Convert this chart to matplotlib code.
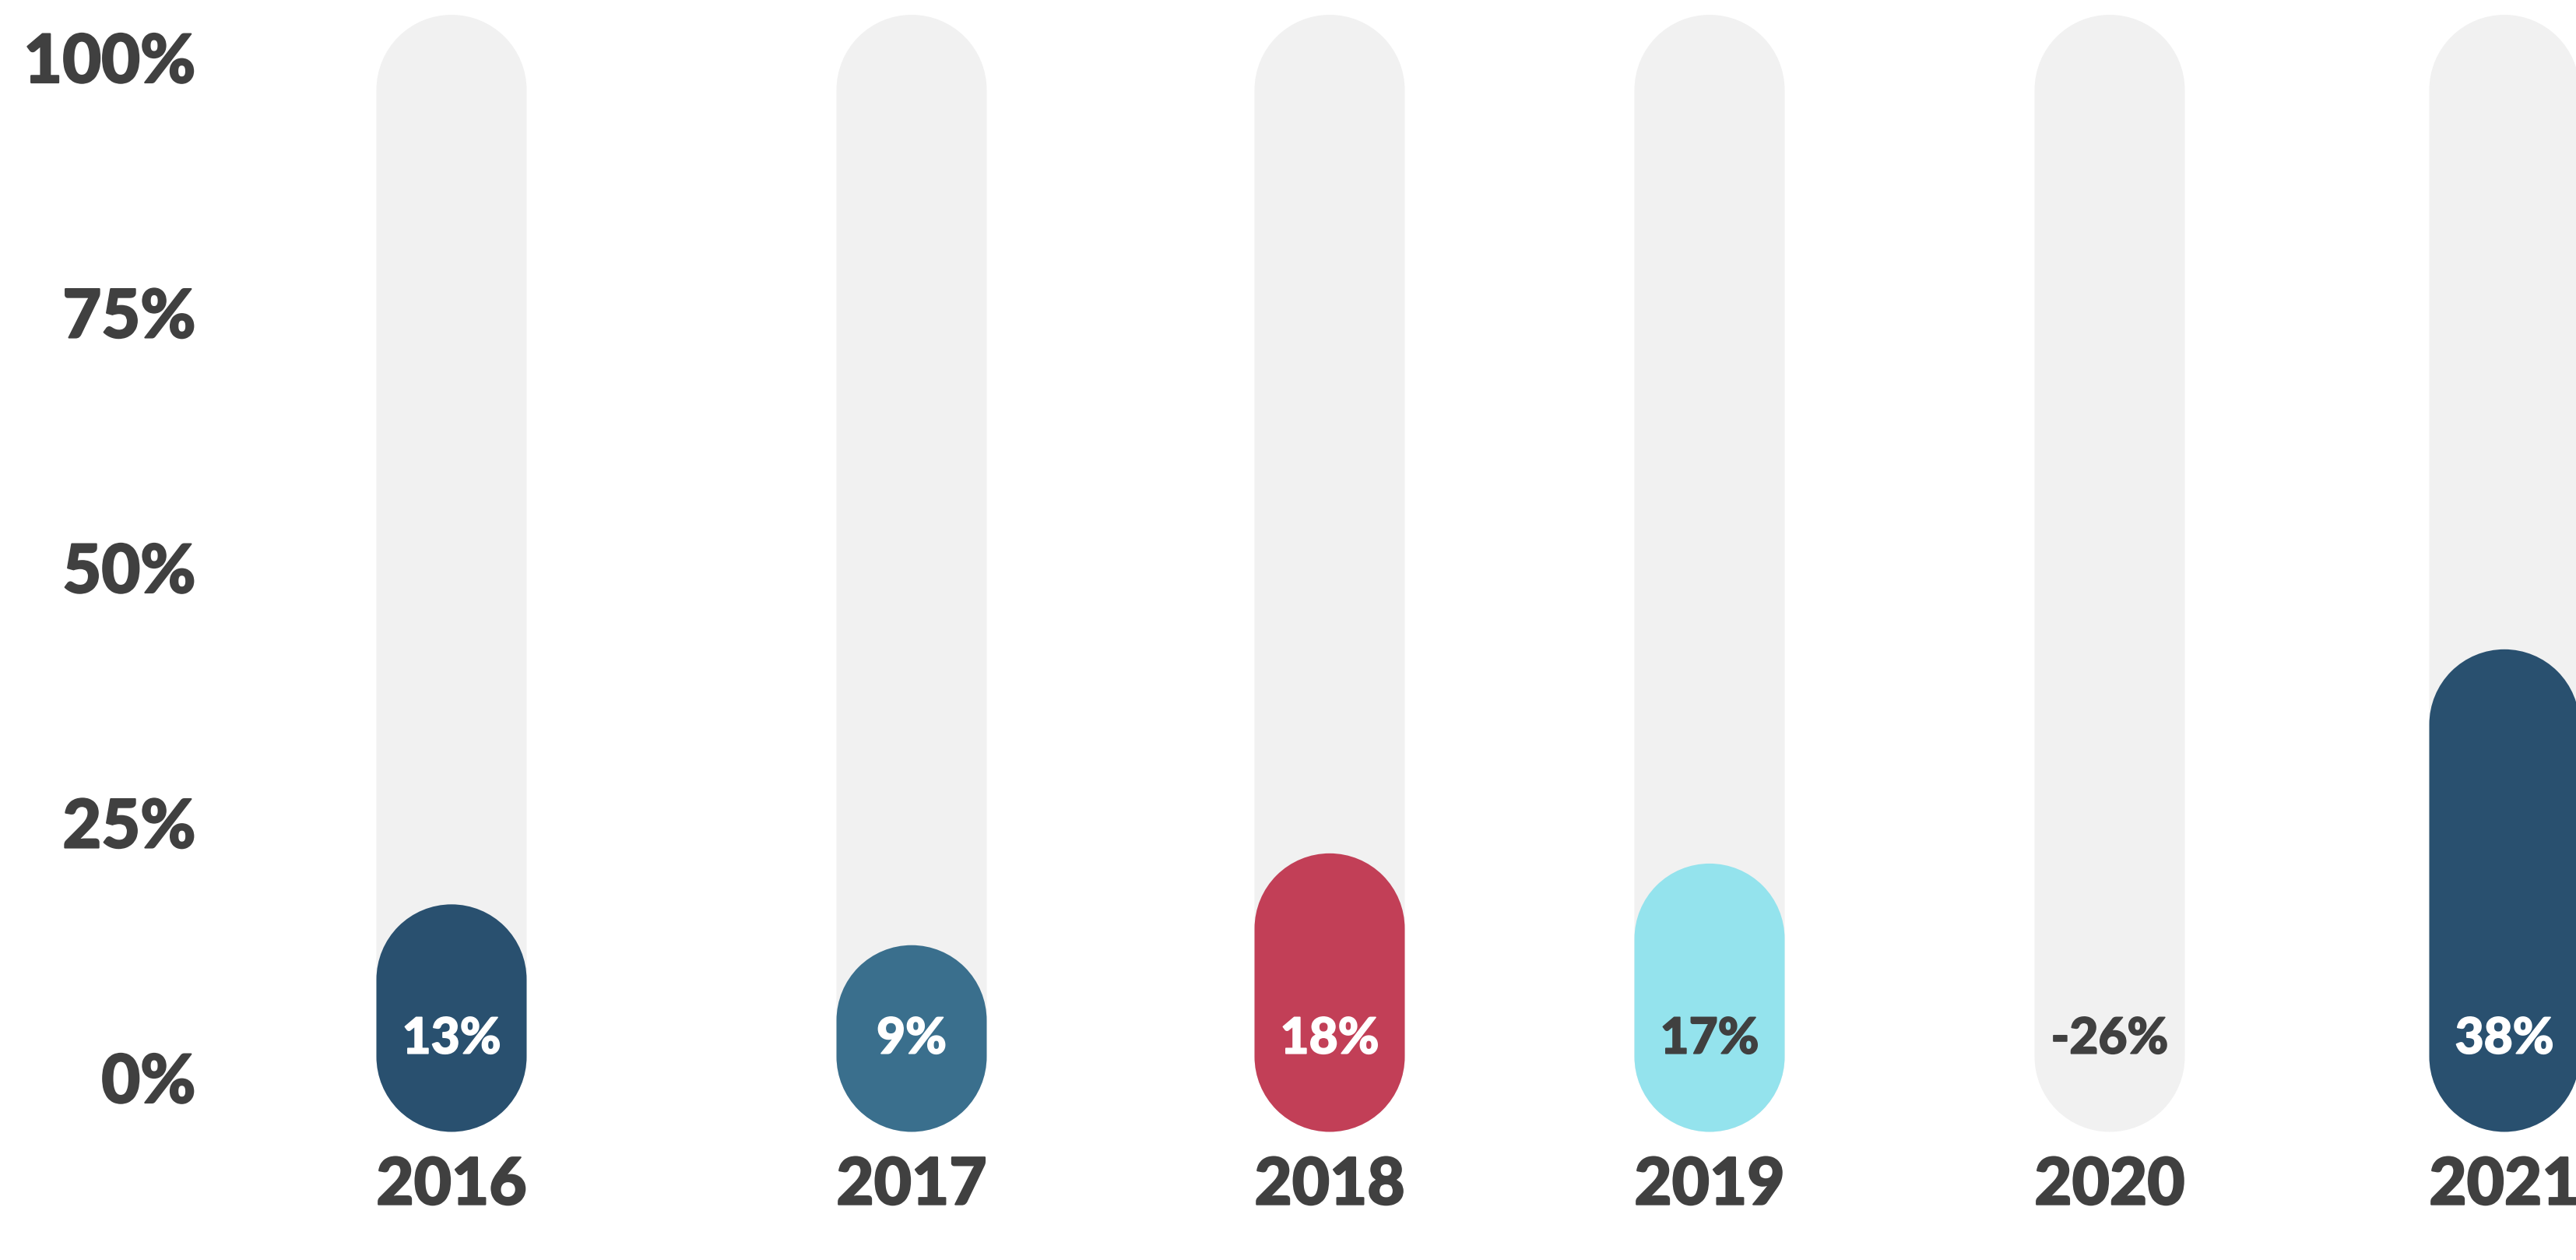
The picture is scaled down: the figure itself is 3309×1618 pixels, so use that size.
import numpy as np
import matplotlib.pyplot as plt
import matplotlib.patheffects as pe
from matplotlib.path import Path
from matplotlib.patches import PathPatch

# growth per year, in percent
years = ['2016', '2017', '2018', '2019', '2020', '2021']
growth = [13, 9, 18, 17, -26, 38]
bar_colors = ['#29506F', '#3A6F8D', '#C23F57', '#94E3ED', '#F1F1F1', '#29506F']
label_colors = ['white', 'white', 'white', '#404040', '#404040', 'white']
y_ticks = [0, 25, 50, 75, 100]

# layout (figure pixels)
W, H = 3309, 1618
bar_x = [580, 1171, 1708, 2196, 2710, 3217]
bar_w = 193
ax_left, ax_bottom = 300, 158
y_lo, y_hi = -5.8, 105.65
track_lo, track_hi = -5.3, 104.2
cap_extra = 4
label_y = 3.8

TEXT = '#404040'
TRACK = '#F1F1F1'

plt.rcParams['font.family'] = ['Lato', 'DejaVu Sans']

fig = plt.figure(figsize=(W / 100, H / 100), dpi=100)
ax = fig.add_axes([ax_left / W, ax_bottom / H, 1 - ax_left / W, 1 - ax_bottom / H])
ax.set_xlim(ax_left, W)
ax.set_ylim(y_lo, y_hi)

# y data units per pixel, so caps come out round
ky = (y_hi - y_lo) / (H - ax_bottom)


def pill(ax, x, y0, y1, color):
    r = bar_w / 2
    ry = r * ky
    top = Path.arc(0, 180)
    bot = Path.arc(180, 360)
    vt = top.vertices * [r, ry] + [x, y1 - ry]
    vb = bot.vertices * [r, ry] + [x, y0 + ry]
    cb = bot.codes.copy()
    cb[0] = Path.LINETO
    verts = np.vstack([vt, vb, vt[:1]])
    codes = np.concatenate([top.codes, cb, [Path.CLOSEPOLY]])
    ax.add_patch(PathPatch(Path(verts, codes), fc=color, ec='none', lw=0))


def heavy(color, w=1.2):
    return [pe.withStroke(linewidth=w, foreground=color)]


for x, v, c, lc in zip(bar_x, growth, bar_colors, label_colors):
    pill(ax, x, track_lo, track_hi, TRACK)
    if v > 0:
        pill(ax, x, track_lo, v + cap_extra, c)
    ax.text(x, label_y, f'{v}%', ha='center', va='center', color=lc,
            fontsize=46, fontweight='black', path_effects=heavy(lc))

ax.set_yticks(y_ticks)
ax.set_yticklabels([f'{t}%' for t in y_ticks])
ax.set_xticks(bar_x)
ax.set_xticklabels(years)
ax.tick_params(length=0, colors=TEXT, labelsize=62)
ax.tick_params(axis='y', pad=35)
ax.tick_params(axis='x', labelsize=60, pad=17)
for lab in ax.get_xticklabels() + ax.get_yticklabels():
    lab.set_fontweight('black')
    lab.set_path_effects(heavy(TEXT, 1.5))
for s in ax.spines.values():
    s.set_visible(False)

fig.savefig('out.png', dpi=100)
